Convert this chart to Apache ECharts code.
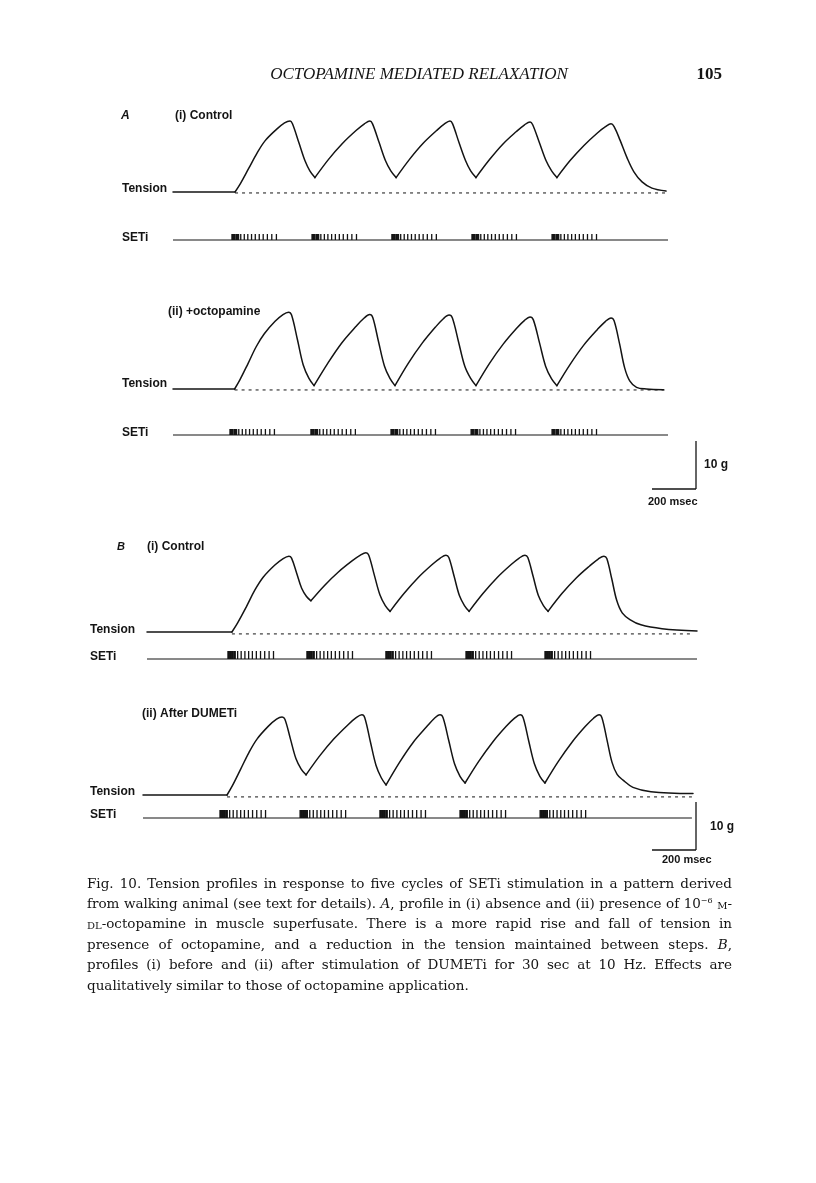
<!DOCTYPE html>
<html>
<head>
<meta charset="utf-8">
<script src="https://cdn.jsdelivr.net/npm/echarts@6/dist/echarts.min.js"></script>
<style>
  html, body { margin: 0; padding: 0; background: #fff; }
  #chart { width: 816px; height: 1183px; }
</style>
</head>
<body>
<div id="chart"></div>
<script>
// tension traces: [time (ms), tension (g)]
var tensionAi = [
  [0,0],[282,0],
  [307,1.8],[344,4.9],[382,8.1],[419,10.7],[469,13.0],[507,14.4],[532,14.8],
  [543,14.2],[572,10.3],[600,6.5],[622,4.4],[645,3.0],
  [707,6.8],[770,10.1],[832,12.8],[870,14.2],[895,14.8],
  [907,14.2],[937,10.3],[966,6.5],[990,4.4],[1014,3.0],
  [1075,6.8],[1136,10.1],[1198,12.8],[1234,14.2],[1259,14.8],
  [1271,14.2],[1300,10.3],[1330,6.5],[1353,4.4],[1377,3.0],
  [1438,6.7],[1500,10.0],[1561,12.6],[1598,14.0],[1623,14.6],
  [1635,14.0],[1666,10.2],[1696,6.5],[1721,4.4],[1745,3.0],
  [1806,6.6],[1868,9.7],[1929,12.3],[1966,13.6],[1991,14.2],
  [2005,13.6],[2032,10.8],[2064,7.1],[2095,4.2],[2132,2.1],[2177,0.8],[2241,0.2]
];
var tensionAii = [
  [0,0],[280,0],
  [304,1.9],[341,5.3],[378,8.8],[415,11.5],[464,14.1],[500,15.5],[525,16.0],
  [539,15.4],[566,10.2],[592,5.0],[618,2.2],[641,0.7],
  [704,5.4],[767,9.6],[831,13.0],[869,14.8],[894,15.5],
  [908,14.9],[934,9.9],[961,4.8],[986,2.2],[1009,0.7],
  [1070,5.4],[1132,9.5],[1193,12.9],[1230,14.7],[1255,15.4],
  [1270,14.8],[1298,9.8],[1326,4.8],[1353,2.2],[1377,0.7],
  [1438,5.3],[1500,9.3],[1561,12.6],[1598,14.3],[1623,15.0],
  [1638,14.4],[1666,9.6],[1694,4.7],[1721,2.1],[1745,0.7],
  [1806,5.2],[1868,9.2],[1929,12.4],[1966,14.1],[1991,14.8],
  [2005,14.2],[2030,9.4],[2053,4.4],[2076,1.7],[2107,0.35],[2152,0],[2229,-0.15]
];
var tensionBi = [
  [0,0],[386,0],
  [412,1.9],[451,5.2],[490,8.7],[528,11.4],[580,13.9],[619,15.3],[645,15.8],
  [657,15.4],[680,12.3],[703,9.1],[725,7.4],[745,6.5],
  [807,9.7],[870,12.5],[932,14.8],[970,16.0],[995,16.5],
  [1008,16.0],[1033,11.9],[1059,7.7],[1083,5.5],[1105,4.3],
  [1168,8.0],[1232,11.3],[1295,14.0],[1333,15.4],[1359,16.0],
  [1372,15.5],[1396,11.6],[1420,7.6],[1443,5.5],[1464,4.3],
  [1527,8.0],[1591,11.3],[1654,14.0],[1692,15.4],[1718,16.0],
  [1731,15.5],[1755,11.6],[1779,7.6],[1802,5.5],[1823,4.3],
  [1886,8.0],[1950,11.2],[2013,13.8],[2051,15.2],[2077,15.8],
  [2090,15.3],[2112,11.2],[2135,6.6],[2160,4.0],[2195,2.6],[2245,1.5],[2341,0.7],[2500,0.2]
];
var tensionBii = [
  [0,0],[382,0],
  [407,2.0],[444,5.4],[482,8.9],[519,11.7],[569,14.3],[607,15.8],[632,16.25],
  [645,15.8],[670,11.7],[695,7.6],[719,5.4],[741,4.2],
  [804,8.2],[868,11.7],[931,14.6],[969,16.1],[995,16.7],
  [1008,16.1],[1033,11.2],[1059,6.2],[1083,3.6],[1105,2.1],
  [1166,6.8],[1227,10.9],[1289,14.2],[1325,16.0],[1350,16.7],
  [1364,16.1],[1390,11.3],[1416,6.5],[1441,3.9],[1464,2.5],
  [1526,7.0],[1589,11.0],[1651,14.3],[1689,16.0],[1714,16.7],
  [1728,16.1],[1753,11.3],[1779,6.5],[1804,3.9],[1827,2.5],
  [1888,7.0],[1950,11.0],[2011,14.3],[2048,16.0],[2073,16.7],
  [2086,16.1],[2109,11.5],[2132,6.8],[2155,4.3],[2182,3.1],[2227,1.6],[2309,0.7],[2500,0.3]
];

// dotted resting-tension lines: [from ms, to ms, level g]
var restAi = [282, 2250, -0.2];
var restAii = [280, 2245, -0.2];
var restBi = [386, 2468, -0.4];
var restBii = [382, 2495, -0.4];

// SETi burst onsets (ms) and spike times inside a burst (ms after onset)
var burstsAi = [268, 632, 995, 1359, 1723];
var burstsAii = [259, 627, 991, 1355, 1723];
var burstsBi = [368, 727, 1086, 1450, 1809];
var burstsBii = [350, 714, 1077, 1441, 1805];
var spikesA = [0,3,6,9,12,18,21,24,27,30,40,56,72,89,106,124,142,161,181,202];
var spikesB = [0,3,6,9,12,15,18,21,24,30,33,44,60,77,94,111,129,148,167,187,207];
var setiEnd = [2250, 2250, 2500, 2495];

// scale bars
var scaleTime = 200;   // msec
var scaleForce = 10;   // g

var PX_MS = 0.22, PX_G = 4.8, G_MIN = -2, G_MAX = 18;
var INK = '#141414';
var SANS = '"Liberation Sans", Arial, sans-serif';
var SERIF = '"Liberation Serif", "Times New Roman", serif';
var CAPSERIF = '"DejaVu Serif", serif';

var panels = [
  {trace: tensionAi,  rest: restAi,  bursts: burstsAi,  spikes: spikesA, left: 173, base: 192, seti: 240, spikeH: 6, tMax: 2300, end: setiEnd[0]},
  {trace: tensionAii, rest: restAii, bursts: burstsAii, spikes: spikesA, left: 173, base: 389, seti: 435, spikeH: 6, tMax: 2300, end: setiEnd[1]},
  {trace: tensionBi,  rest: restBi,  bursts: burstsBi,  spikes: spikesB, left: 147, base: 632, seti: 659, spikeH: 8, tMax: 2520, end: setiEnd[2]},
  {trace: tensionBii, rest: restBii, bursts: burstsBii, spikes: spikesB, left: 143, base: 795, seti: 818, spikeH: 8, tMax: 2520, end: setiEnd[3]}
];

var option = {
  animation: false,
  backgroundColor: '#fff',
  grid: [], xAxis: [], yAxis: [], series: [], graphic: []
};

function spikeItem(params, api) {
  var t = api.value(0);
  var a = api.coord([t, 0]), b = api.coord([t, 1]);
  return {type: 'rect', shape: {x: a[0] - 0.65, y: b[1], width: 1.3, height: a[1] - b[1]}, style: {fill: INK}};
}

// break a trace at its troughs so the V-shaped minima stay sharp
function splitAtTroughs(d) {
  var parts = [], cur = [d[0]];
  for (var i = 1; i < d.length; i++) {
    cur.push(d[i]);
    if (i < d.length - 1 && d[i][1] <= d[i - 1][1] && d[i][1] < d[i + 1][1]) {
      parts.push(cur);
      cur = [d[i]];
    }
  }
  parts.push(cur);
  return parts;
}

panels.forEach(function (p) {
  var gi = option.grid.length;
  option.grid.push({left: p.left, top: p.base - G_MAX * PX_G, width: p.tMax * PX_MS, height: (G_MAX - G_MIN) * PX_G});
  option.xAxis.push({type: 'value', gridIndex: gi, min: 0, max: p.tMax, show: false});
  option.yAxis.push({type: 'value', gridIndex: gi, min: G_MIN, max: G_MAX, show: false});
  splitAtTroughs(p.trace).forEach(function (seg) {
    option.series.push({
      type: 'line', xAxisIndex: gi, yAxisIndex: gi, data: seg,
      smooth: 0.35, showSymbol: false, clip: false,
      lineStyle: {color: INK, width: 1.5, cap: 'round', join: 'round'}
    });
  });
  option.series.push({
    type: 'line', xAxisIndex: gi, yAxisIndex: gi,
    data: [[p.rest[0], p.rest[2]], [p.rest[1], p.rest[2]]],
    showSymbol: false, clip: false,
    lineStyle: {color: INK, width: 1, type: [3, 4]}
  });

  var si = gi + 1;
  option.grid.push({left: p.left, top: p.seti - p.spikeH, width: p.tMax * PX_MS, height: p.spikeH});
  option.xAxis.push({type: 'value', gridIndex: si, min: 0, max: p.tMax, show: false});
  option.yAxis.push({type: 'value', gridIndex: si, min: 0, max: 1, show: false});
  option.series.push({
    type: 'line', xAxisIndex: si, yAxisIndex: si, data: [[0, 0], [p.end, 0]],
    showSymbol: false, clip: false, lineStyle: {color: INK, width: 1.2}
  });
  var sp = [];
  p.bursts.forEach(function (b) {
    p.spikes.forEach(function (o) { sp.push([b + o, 1]); });
  });
  option.series.push({
    type: 'custom', xAxisIndex: si, yAxisIndex: si, data: sp,
    encode: {x: 0, y: 1}, clip: false, renderItem: spikeItem
  });
});

function label(x, y, text, extra) {
  var st = {text: text, x: x, y: y, fill: INK, fontSize: 12, fontWeight: 'bold', fontFamily: SANS,
    align: 'left', verticalAlign: 'middle', textAlign: 'left', textVerticalAlign: 'middle'};
  for (var k in extra) st[k] = extra[k];
  option.graphic.push({type: 'text', silent: true, style: st});
}
function bar(x1, y1, x2, y2) {
  option.graphic.push({type: 'line', silent: true, shape: {x1: x1, y1: y1, x2: x2, y2: y2},
    style: {stroke: INK, lineWidth: 1.3}});
}

// page head
label(419, 75, 'OCTOPAMINE MEDIATED RELAXATION', {fontFamily: SERIF, fontStyle: 'italic', fontWeight: 'normal', fontSize: 17, align: 'center', textAlign: 'center'});
label(722, 75, '105', {fontFamily: SERIF, fontSize: 17, align: 'right', textAlign: 'right'});

// panel labels
label(121, 116, 'A', {fontStyle: 'italic'});
label(175, 116, '(i) Control');
label(122, 189, 'Tension');
label(122, 238, 'SETi');
label(168, 312, '(ii) +octopamine');
label(122, 384, 'Tension');
label(122, 433, 'SETi');
label(117, 547, 'B', {fontStyle: 'italic', fontSize: 11});
label(147, 547, '(i) Control');
label(90, 630, 'Tension');
label(90, 657, 'SETi');
label(142, 714, '(ii) After DUMETi');
label(90, 792, 'Tension');
label(90, 815, 'SETi');

// scale bars
var barW = scaleTime * PX_MS, barH = scaleForce * PX_G;
bar(696, 489 - barH, 696, 489);
bar(696 - barW, 489, 696, 489);
label(704, 465, scaleForce + ' g');
label(648, 502, scaleTime + ' msec', {fontSize: 11});
bar(696, 850 - barH, 696, 850);
bar(696 - barW, 850, 696, 850);
label(710, 827, scaleForce + ' g');
label(662, 860, scaleTime + ' msec', {fontSize: 11});

// caption, justified word by word
var captionLines = [
  'Fig. 10. Tension profiles in response to five cycles of SETi stimulation in a pattern derived',
  'from walking animal (see text for details). {it|A}, profile in (i) absence and (ii) presence of 10{sup|\u22126} {sc|M}-',
  '{sc|DL}-octopamine in muscle superfusate. There is a more rapid rise and fall of tension in',
  'presence of octopamine, and a reduction in the tension maintained between steps. {it|B},',
  'profiles (i) before and (ii) after stimulation of DUMETi for 30 sec at 10 Hz. Effects are',
  'qualitatively similar to those of octopamine application.'
];
var capSize = 13.5;
var capFonts = {
  n: capSize + 'px ' + CAPSERIF,
  it: 'italic ' + capSize + 'px ' + CAPSERIF,
  sup: '8px ' + CAPSERIF,
  sc: '10px ' + CAPSERIF
};
var ctx = document.createElement('canvas').getContext('2d');
function measure(w) {
  var re = /\{(\w+)\|([^}]*)\}|([^{]+)/g, m, sum = 0;
  while ((m = re.exec(w))) {
    ctx.font = capFonts[m[1] || 'n'];
    sum += ctx.measureText(m[1] ? m[2] : m[3]).width;
  }
  return sum;
}
var capLeft = 87, capRight = 732, capTop = 884, capStep = 20.4;
captionLines.forEach(function (line, li) {
  var words = line.split(' ');
  var widths = words.map(measure);
  var total = widths.reduce(function (a, b) { return a + b; }, 0);
  var gap = li < captionLines.length - 1 ? (capRight - capLeft - total) / (words.length - 1) : measure(' ');
  var x = capLeft;
  words.forEach(function (w, wi) {
    option.graphic.push({type: 'text', silent: true, style: {
      text: w, x: x, y: capTop + li * capStep, fill: INK,
      fontSize: capSize, fontFamily: CAPSERIF,
      align: 'left', verticalAlign: 'middle', textAlign: 'left', textVerticalAlign: 'middle',
      rich: {
        it: {fontStyle: 'italic', fontSize: capSize, fontFamily: CAPSERIF, fill: INK},
        sup: {fontSize: 8, fontFamily: CAPSERIF, verticalAlign: 'top', fill: INK},
        sc: {fontSize: 10, fontFamily: CAPSERIF, verticalAlign: 'bottom', fill: INK}
      }
    }});
    x += widths[wi] + gap;
  });
});

var chart = echarts.init(document.getElementById('chart'));
chart.setOption(option);
</script>
</body>
</html>
